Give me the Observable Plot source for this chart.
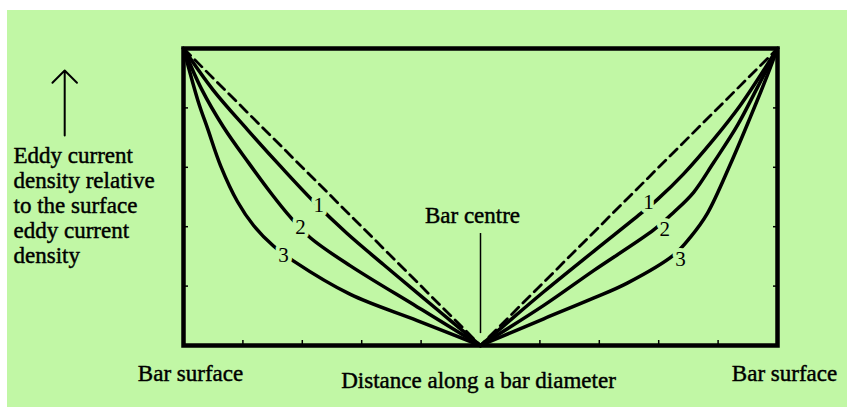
<!DOCTYPE html>
<html><head><meta charset="utf-8">
<script src="https://cdn.jsdelivr.net/npm/d3@7"></script>
<script src="https://cdn.jsdelivr.net/npm/@observablehq/plot@0.6"></script>
<style>
html,body{margin:0;background:#fff;}
body{padding:10px 0 0 7px;}
</style></head><body><div id="chart"></div>
<script>
const GREEN = "#c1f7a5";

// Position along the bar diameter (-1 = left surface, 0 = centre, 1 = right surface)
// and eddy current density relative to the surface value.
const c1LeftR  = [-1, -0.90, -0.785, -0.673, -0.561, -0.45, -0.326, -0.20, -0.10, 0];
const c1LeftJ  = [1, 0.86, 0.727, 0.603, 0.484, 0.378, 0.272, 0.166, 0.083, 0];
const c1RightR = [0, 0.067, 0.213, 0.382, 0.539, 0.596, 0.684, 0.785, 0.875, 1];
const c1RightJ = [0, 0.057, 0.181, 0.318, 0.444, 0.492, 0.578, 0.694, 0.809, 1];

const c2LeftR  = [-1, -0.94, -0.865, -0.78, -0.707, -0.640, -0.572, -0.438, -0.213, -0.06, 0];
const c2LeftJ  = [1, 0.865, 0.735, 0.614, 0.515, 0.432, 0.362, 0.268, 0.130, 0.036, 0];
const c2RightR = [0, 0.213, 0.382, 0.584, 0.65, 0.717, 0.785, 0.865, 0.933, 1];
const c2RightJ = [0, 0.135, 0.253, 0.390, 0.448, 0.515, 0.616, 0.741, 0.870, 1];

const c3LeftR  = [-1, -0.95, -0.919, -0.875, -0.818, -0.764, -0.697, -0.629, -0.438, -0.213, 0];
const c3LeftJ  = [1, 0.82, 0.731, 0.605, 0.484, 0.404, 0.335, 0.284, 0.172, 0.084, 0];
const c3RightR = [0, 0.213, 0.382, 0.494, 0.651, 0.707, 0.764, 0.842, 0.909, 0.966, 1];
const c3RightJ = [0, 0.090, 0.160, 0.210, 0.305, 0.365, 0.445, 0.612, 0.770, 0.910, 1];

// Dashed reference (linear distribution)
const dashR = [-1, 0, 1];
const dashJ = [1, 0, 1];

// Curve number labels
const labelText = ["1", "2", "3", "1", "2", "3"];
const labelR = [-0.545, -0.606, -0.663, 0.566, 0.620, 0.673];
const labelJ = [0.471, 0.397, 0.303, 0.481, 0.391, 0.290];

const xTicks = [-0.8, -0.6, -0.4, -0.2, 0.2, 0.4, 0.6, 0.8];
const yTicks = [0.2, 0.4, 0.6, 0.8];

const surfaceR = [-1, 1];
const surfaceText = ["Bar surface", "Bar surface"];
const xTitle = "Distance along a bar diameter";
const yTitle = "Eddy current\ndensity relative\nto the surface\neddy current\ndensity";
const centreText = "Bar centre";

const rows = [];
function add(series, rs, js) { rs.forEach((r, i) => rows.push({series, r, j: js[i]})); }
add("1L", c1LeftR, c1LeftJ); add("1R", c1RightR, c1RightJ);
add("2L", c2LeftR, c2LeftJ); add("2R", c2RightR, c2RightJ);
add("3L", c3LeftR, c3LeftJ); add("3R", c3RightR, c3RightJ);
const dashed = dashR.map((r, i) => ({r, j: dashJ[i]}));
const labels = labelText.map((t, i) => ({t, r: labelR[i], j: labelJ[i]}));
const surfaces = surfaceR.map((r, i) => ({r, t: surfaceText[i]}));

const FONT = "'Liberation Serif', 'Times New Roman', serif";
const bold = {fill: "black", stroke: "black", strokeWidth: 0.45};

const chart = Plot.plot({
  width: 840, height: 397,
  marginLeft: 176, marginRight: 70, marginTop: 38, marginBottom: 62,
  x: {domain: [-1, 1]},
  y: {domain: [0, 1]},
  style: {background: GREEN, fontFamily: FONT, color: "black"},
  marks: [
    Plot.line(dashed, {x: "r", y: "j", stroke: "black", strokeWidth: 2.8, strokeDasharray: "10,6"}),
    Plot.line(rows, {x: "r", y: "j", z: "series", curve: "catmull-rom", stroke: "black", strokeWidth: 3.5}),
    Plot.text(labels, {x: "r", y: "j", text: "t", fontSize: 21, fill: "black", stroke: GREEN, strokeWidth: 8}),
    Plot.frame({stroke: "black", strokeWidth: 4.5}),
    Plot.axisX({ticks: xTicks, tickSize: -5, tickFormat: () => "", label: null, strokeWidth: 1.5}),
    Plot.axisY({anchor: "left", ticks: yTicks, tickSize: -5, tickFormat: () => "", label: null, strokeWidth: 1.5}),
    Plot.axisY({anchor: "right", ticks: yTicks, tickSize: -5, tickFormat: () => "", label: null, strokeWidth: 1.5}),
    Plot.ruleX([0], {y1: 0.04, y2: 0.377, stroke: "black", strokeWidth: 1.5}),
    Plot.text([centreText], {x: 0, y: 0.411, dx: -8, text: d => d, fontSize: 23, lineAnchor: "bottom", ...bold}),
    Plot.text(surfaces, {x: "r", text: "t", frameAnchor: "bottom", dy: 35, dx: 7, lineAnchor: "bottom", fontSize: 23, ...bold}),
    Plot.text([xTitle], {x: 0, text: d => d, frameAnchor: "bottom", dy: 42, dx: -2, lineAnchor: "bottom", fontSize: 23, ...bold}),
    Plot.text([yTitle], {text: d => d, frameAnchor: "left", dx: -170, dy: 8, textAnchor: "start", lineAnchor: "middle", fontSize: 23, lineHeight: 1.09, ...bold}),
    Plot.arrow([0], {x1: -1.4, y1: 0.707, x2: -1.4, y2: 0.926, headLength: 13, headAngle: 90, stroke: "black", strokeWidth: 2})
  ]
});
document.getElementById("chart").appendChild(chart);
</script></body></html>
